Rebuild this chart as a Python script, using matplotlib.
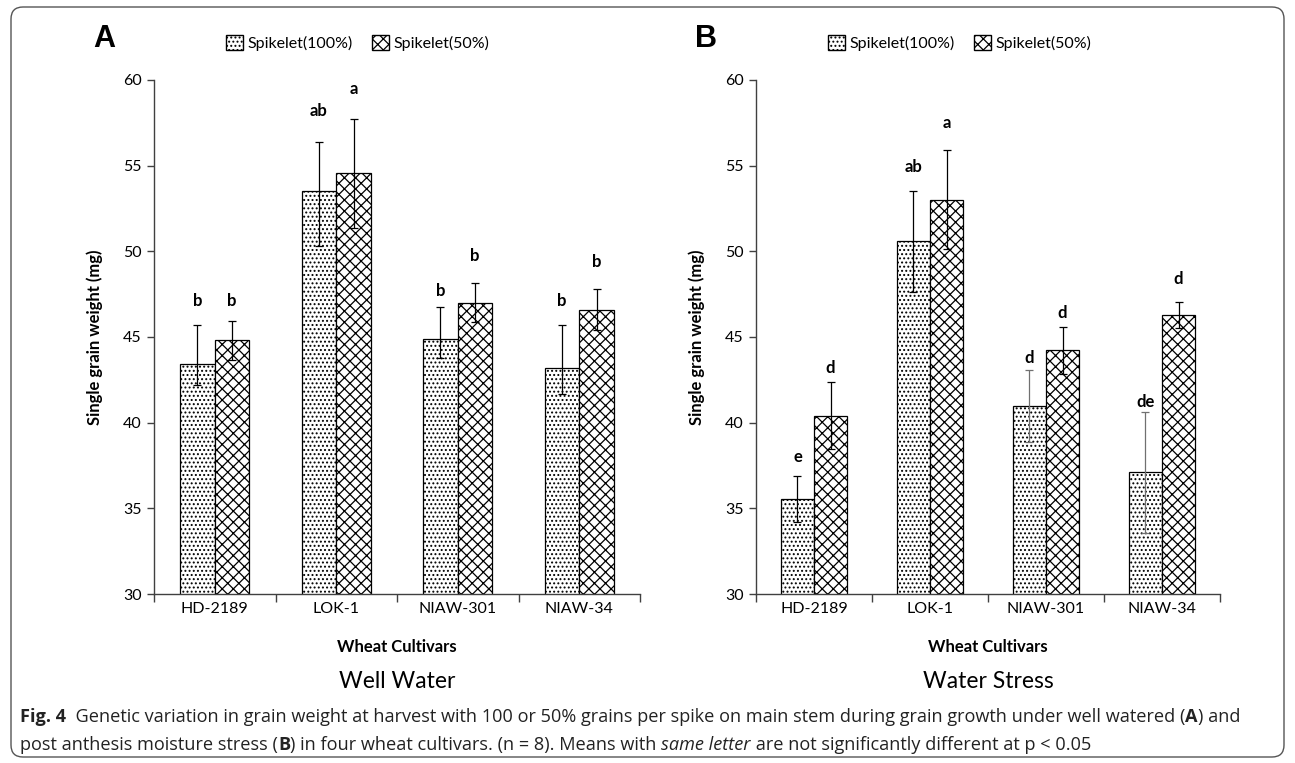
import numpy as np
import matplotlib.pyplot as plt
from matplotlib.patches import FancyBboxPatch, Patch

plt.rcParams['font.family'] = ['Lato', 'DejaVu Sans']
plt.rcParams['hatch.linewidth'] = 0.9

cultivars = ['HD-2189', 'LOK-1', 'NIAW-301', 'NIAW-34']

# A: well watered
ww_full = [43.4, 53.5, 44.9, 43.2]
ww_full_lo = [1.2, 3.2, 1.1, 1.5]
ww_full_hi = [2.3, 2.9, 1.85, 2.5]
ww_half = [44.8, 54.55, 47.0, 46.6]
ww_half_lo = [1.15, 3.2, 1.1, 1.2]
ww_half_hi = [1.15, 3.2, 1.15, 1.2]
ww_full_letters = ['b', 'ab', 'b', 'b']
ww_half_letters = ['b', 'a', 'b', 'b']
ww_full_letter_y = [47.1, 58.2, 47.7, 47.1]
ww_half_letter_y = [47.1, 59.5, 49.7, 49.4]

# B: water stress
ws_full = [35.55, 50.6, 41.0, 37.1]
ws_full_lo = [1.35, 2.95, 2.15, 3.55]
ws_full_hi = [1.35, 2.9, 2.1, 3.55]
ws_half = [40.4, 53.0, 44.25, 46.3]
ws_half_lo = [1.95, 2.85, 1.4, 0.8]
ws_half_hi = [2.0, 2.9, 1.35, 0.75]
ws_full_letters = ['e', 'ab', 'd', 'de']
ws_half_letters = ['d', 'a', 'd', 'd']
ws_full_letter_y = [38.0, 54.9, 43.8, 41.2]
ws_half_letter_y = [43.2, 57.5, 46.4, 48.4]
ws_full_errcol = ['black', 'black', '#707070', '#707070']

series_labels = ['Spikelet(100%)', 'Spikelet(50%)']
dot_hatch = '....'
cross_hatch = 'xxx'

W, H = 1295, 763
fig = plt.figure(figsize=(W / 100, H / 100), dpi=100)

# background axes in pixel units for frame, titles and caption
bg = fig.add_axes([0, 0, 1, 1])
bg.set_xlim(0, W)
bg.set_ylim(H, 0)
bg.axis('off')
bg.add_patch(FancyBboxPatch((11, 7), 1273, 750, boxstyle='round,pad=0,rounding_size=12',
                            fc='none', ec='#555555', lw=1.0))


def draw_panel(left, width, full, full_lo, full_hi, half, half_lo, half_hi,
               fl, hl, fly, hly, errcol=None):
    ax = fig.add_axes([left / W, 1 - 594 / H, width / W, (594 - 80) / H])
    x = np.arange(len(cultivars))
    w = 0.285
    ax.bar(x - w / 2, full, w, color='white', edgecolor='black', hatch=dot_hatch, lw=0.9)
    ax.bar(x + w / 2, half, w, color='white', edgecolor='black', hatch=cross_hatch, lw=0.9)
    if errcol is None:
        errcol = ['black'] * len(x)
    for i in range(len(x)):
        ax.errorbar(x[i] - w / 2, full[i], yerr=[[full_lo[i]], [full_hi[i]]], fmt='none',
                    ecolor=errcol[i], elinewidth=0.9, capsize=3, capthick=0.9)
        ax.errorbar(x[i] + w / 2, half[i], yerr=[[half_lo[i]], [half_hi[i]]], fmt='none',
                    ecolor='black', elinewidth=0.9, capsize=3, capthick=0.9)
        ax.text(x[i] - w / 2, fly[i], fl[i], ha='center', va='center',
                fontsize=12, fontweight='bold')
        ax.text(x[i] + w / 2, hly[i], hl[i], ha='center', va='center',
                fontsize=12, fontweight='bold')
    ax.set_xlim(-0.5, 3.5)
    ax.set_ylim(30, 60)
    ax.set_yticks(range(30, 61, 5))
    ax.set_xticks(np.arange(-0.5, 4, 1))
    ax.set_xticklabels([])
    ax.set_xticks(x, minor=True)
    ax.set_xticklabels(cultivars, minor=True)
    ax.tick_params(axis='x', which='major', length=6, width=1, color='#404040')
    ax.tick_params(axis='x', which='minor', length=0, pad=6, labelsize=11.5)
    ax.tick_params(axis='y', length=5, width=1, color='#404040', pad=4, labelsize=11.5)
    for s in ['top', 'right']:
        ax.spines[s].set_visible(False)
    for s in ['left', 'bottom']:
        ax.spines[s].set_color('#404040')
        ax.spines[s].set_linewidth(1)
    return ax


axA = draw_panel(154, 486, ww_full, ww_full_lo, ww_full_hi, ww_half, ww_half_lo, ww_half_hi,
                 ww_full_letters, ww_half_letters, ww_full_letter_y, ww_half_letter_y)
axB = draw_panel(756, 464, ws_full, ws_full_lo, ws_full_hi, ws_half, ws_half_lo, ws_half_hi,
                 ws_full_letters, ws_half_letters, ws_full_letter_y, ws_half_letter_y,
                 errcol=ws_full_errcol)

handles = [Patch(facecolor='white', edgecolor='black', hatch=dot_hatch),
           Patch(facecolor='white', edgecolor='black', hatch=cross_hatch)]
for ax, cx in [(axA, 358), (axB, 960)]:
    ax.legend(handles, series_labels, loc='center', bbox_to_anchor=(cx, 43),
              bbox_transform=bg.transData, ncol=2, frameon=False, fontsize=11.5,
              handlelength=1.05, handleheight=1.05, handletextpad=0.3,
              columnspacing=1.2, borderaxespad=0)

for cx, axis_x, panel, title in [(397, 154, 'A', 'Well Water'), (988, 756, 'B', 'Water Stress')]:
    bg.text(axis_x - 50, 39, panel, ha='center', va='center', fontsize=22,
            fontweight='bold', family='Liberation Sans')
    bg.text(axis_x - 59, 337, 'Single grain weight (mg)', rotation=90, ha='center',
            va='center', fontsize=12, fontweight='bold')
    bg.text(cx, 647, 'Wheat Cultivars', ha='center', va='center', fontsize=12,
            fontweight='bold')
    bg.text(cx, 682, title, ha='center', va='center', fontsize=16.5)

# caption, built from consecutive pieces
cap_kw = dict(fontsize=13.1, family=['Open Sans', 'DejaVu Sans'], color='#222222')
caption = [
    [('Fig. 4', {'fontweight': 'bold'}),
     ('  Genetic variation in grain weight at harvest with 100 or 50% grains per spike on main '
      'stem during grain growth under well watered (', {}),
     ('A', {'fontweight': 'bold'}), (') and', {})],
    [('post anthesis moisture stress (', {}), ('B', {'fontweight': 'bold'}),
     (') in four wheat cultivars. (n = 8). Means with ', {}),
     ('same letter', {'fontstyle': 'italic'}),
     (' are not significantly different at p < 0.05', {})],
]
for line, y in zip(caption, [717, 745]):
    t = bg.text(20, y, line[0][0], ha='left', va='center', **cap_kw, **line[0][1])
    for s, kw in line[1:]:
        t = bg.annotate(s, xy=(1, 0), xycoords=t, ha='left', va='bottom', **cap_kw, **kw)

fig.savefig('out.png', dpi=100)
